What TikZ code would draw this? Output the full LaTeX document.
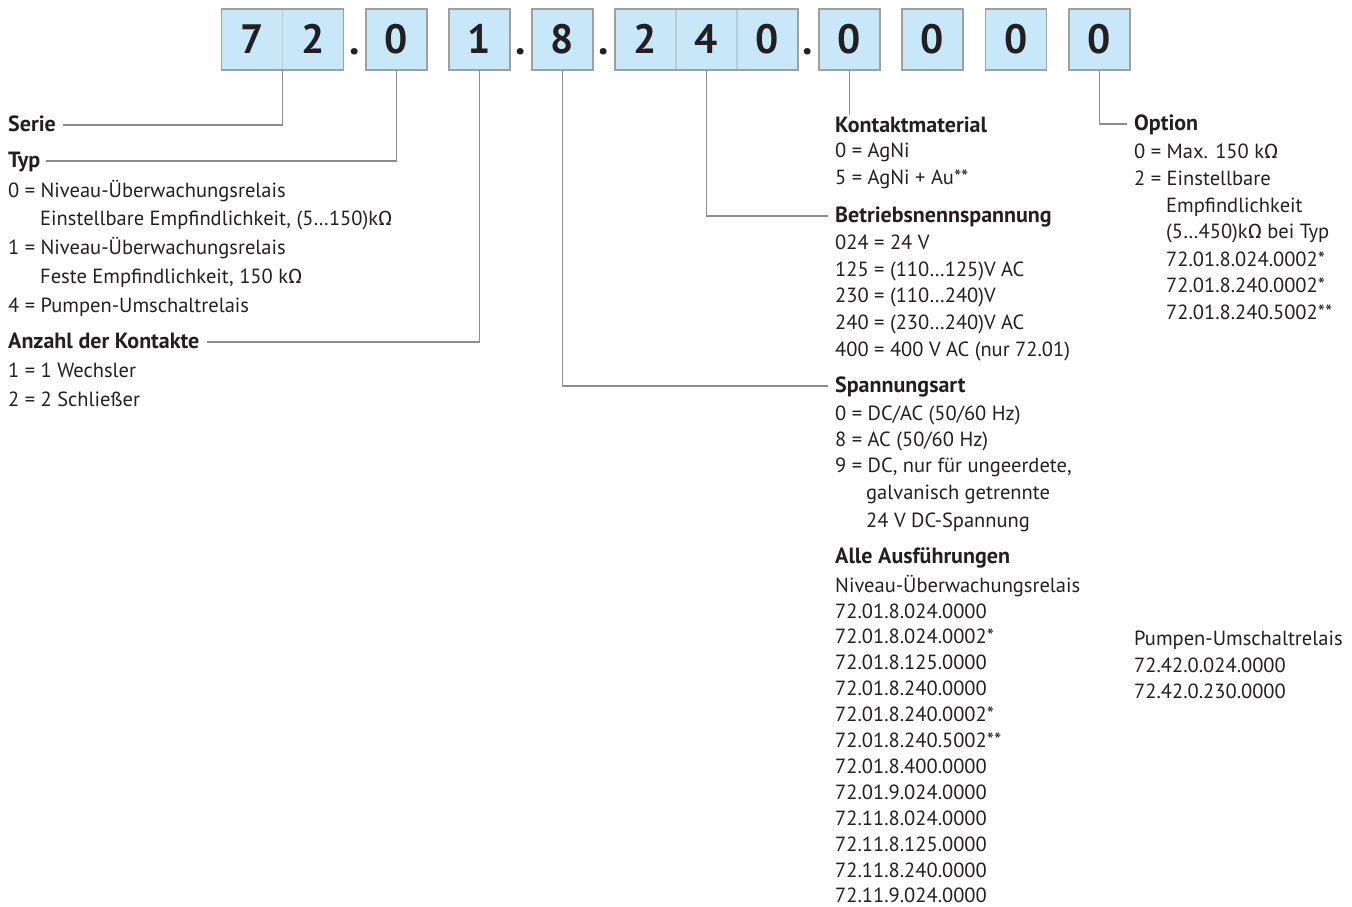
\documentclass[tikz,border=0pt]{standalone}
\usepackage{fontspec}
\setmainfont{PT Sans}
\newfontfamily\greekfont{Fira Sans}
\usetikzlibrary{positioning}
\definecolor{cFill}{HTML}{C8E8F9}
\definecolor{cFrame}{HTML}{A0A0A0}
\definecolor{cDiv}{HTML}{B4CEDA}
\definecolor{cLead}{HTML}{8C8C8C}
\definecolor{cInk}{HTML}{231F20}
\newcommand{\kohm}{k{\greekfont Ω}}

\begin{document}
\begin{tikzpicture}[x=1pt, y=-1pt,
    cell/.style={draw=cFrame, line width=1.2pt, fill=cFill, minimum width=61pt,
      minimum height=61pt, inner sep=0pt, outer sep=0pt, text=cInk,
      font=\bfseries\fontsize{41}{41}\selectfont, text height=29pt, text depth=0pt},
    dot/.style={anchor=base, inner sep=0pt, text=cInk, font=\bfseries\fontsize{42}{42}\selectfont},
    txt/.style={anchor=base west, inner sep=0pt, text=cInk, font=\fontsize{20.5}{24}\selectfont},
    head/.style={txt, font=\bfseries\fontsize{22}{24}\selectfont, text height=12pt, text depth=0pt},
    lead/.style={draw=cLead, line width=1.1pt}]
    \useasboundingbox (0,0) rectangle (1352,907);

    \foreach \d/\x/\n/\c in {7/252/s1/cDiv, 2/313/s2/cDiv, 0/396.5/t/cFrame, 1/479.5/a/cFrame,
       8/562.5/v/cFrame, 2/645.5/b1/cDiv, 4/706.5/b2/cDiv, 0/767.5/b3/cDiv, 0/849.5/k/cFrame,
       0/932.5/x1/cFrame, 0/1016/x2/cFrame, 0/1099.5/o/cFrame}
      \node[cell, draw=\c] (\n) at (\x,39.5) {\d};
    \draw[cFrame, line width=1.2pt] (s1.north west) rectangle (s2.south east);
    \draw[cFrame, line width=1.2pt] (b1.north west) rectangle (b3.south east);
    \foreach \x [count=\i] in {355,521,604,808}
      \node[dot] (p\i) at (\x,55) {.};

    % left column
    \node[head] (serie) at (8,131) {Serie};
    \node[head] (typ) at (8,167) {Typ};
    \foreach \x/\y/\t [count=\i] in {8/197/{0 = Niveau-Überwachungsrelais},
       40/225/{Einstellbare Empfindlichkeit, (5…150)\kohm},
       8/254/{1 = Niveau-Überwachungsrelais},
       40/283/{Feste Empfindlichkeit, 150 \kohm},
       8/312/{4 = Pumpen-Umschaltrelais}}
      \node[txt] (typ\i) at (\x,\y) {\t};
    \node[head] (anz) at (8,348) {Anzahl der Kontakte};
    \node[txt] (anz1) at (8,377) {1 = 1 Wechsler};
    \node[txt] (anz2) at (8,406) {2 = 2 Schließer};

    % middle column
    \node[head] (kontakt) at (835,132) {Kontaktmaterial};
    \node[txt] (kontakt1) at (835,157) {0 = AgNi};
    \node[txt] (kontakt2) at (835,184) {5 = AgNi + Au**};
    \node[head] (betr) at (835,222) {Betriebsnennspannung};
    \foreach \y/\t [count=\i] in {249/{024 = 24 V}, 276/{125 = (110…125)V AC},
       302/{230 = (110…240)V}, 329/{240 = (230…240)V AC}, 356/{400 = 400 V AC (nur 72.01)}}
      \node[txt] (betr\i) at (835,\y) {\t};
    \node[head] (spann) at (835,392) {Spannungsart};
    \foreach \x/\y/\t [count=\i] in {835/420/{0 = DC/AC (50/60 Hz)}, 835/446/{8 = AC (50/60 Hz)},
       835/472/{9 = DC, nur für ungeerdete,}, 866/499/{galvanisch getrennte},
       866/527/{24 V DC-Spannung}}
      \node[txt] (spann\i) at (\x,\y) {\t};
    \node[head] (alle) at (835,563) {Alle Ausführungen};
    \node[txt] (niv) at (835,592) {Niveau-Überwachungsrelais};
    \foreach \t [count=\i from 0] in {72.01.8.024.0000, 72.01.8.024.0002*, 72.01.8.125.0000,
       72.01.8.240.0000, 72.01.8.240.0002*, 72.01.8.240.5002**, 72.01.8.400.0000,
       72.01.9.024.0000, 72.11.8.024.0000, 72.11.8.125.0000, 72.11.8.240.0000, 72.11.9.024.0000}
      \node[txt] (niv\i) at (835,{618+25.9*\i}) {\t};

    % right column
    \node[head] (opt) at (1134,130) {Option};
    \foreach \x/\y/\t [count=\i] in {1134/158/{0 = Max. 150 \kohm}, 1134/185/{2 = Einstellbare},
       1166/212/{Empfindlichkeit}, 1166/238/{(5…450)\kohm{} bei Typ},
       1166/266/{72.01.8.024.0002*}, 1166/292/{72.01.8.240.0002*}, 1166/319/{72.01.8.240.5002**}}
      \node[txt] (opt\i) at (\x,\y) {\t};
    \node[txt] (pump) at (1134,645) {Pumpen-Umschaltrelais};
    \node[txt] (pump1) at (1134,672) {72.42.0.024.0000};
    \node[txt] (pump2) at (1134,698) {72.42.0.230.0000};

    % leaders
    \coordinate (kend) at (849.5,115);
    \draw[lead] (s1.south east) |- ([xshift=7pt]serie.east);
    \draw[lead] (t.south) |- ([xshift=6pt]typ.east);
    \draw[lead] (a.south) |- ([xshift=7pt]anz.east);
    \draw[lead] (v.south) |- ([xshift=-7pt]spann.west);
    \draw[lead] (b2.south) |- ([xshift=-7pt]betr.west);
    \draw[lead] (k.south) -- (kend);
    \draw[lead] (o.south) |- ([xshift=-7pt]opt.west);
\end{tikzpicture}
\end{document}
